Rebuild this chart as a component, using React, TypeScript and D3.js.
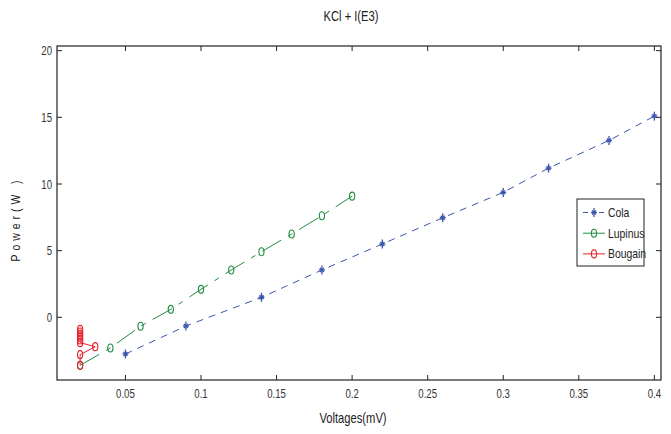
import React from "react";
import * as d3 from "d3";

const colaX = [0.05, 0.09, 0.14, 0.18, 0.22, 0.26, 0.30, 0.33, 0.37, 0.40];
const colaY = [-2.75, -0.65, 1.5, 3.55, 5.5, 7.47, 9.37, 11.19, 13.27, 15.09];
const lupinusX = [0.02, 0.04, 0.06, 0.08, 0.10, 0.12, 0.14, 0.16, 0.18, 0.20];
const lupinusY = [-3.6, -2.3, -0.67, 0.6, 2.1, 3.55, 4.92, 6.25, 7.62, 9.09];
const bougainX = [0.02, 0.02, 0.02, 0.02, 0.02, 0.02, 0.03, 0.02, 0.02];
const bougainY = [-0.9, -1.1, -1.3, -1.5, -1.7, -1.9, -2.2, -2.8, -3.6];
const xTicks = [0.05, 0.1, 0.15, 0.2, 0.25, 0.3, 0.35, 0.4];
const yTicks = [0, 5, 10, 15, 20];
const seriesNames = ["Cola", "Lupinus", "Bougain"];

const W = 671, H = 434;
const L = 57, R = 661, T = 46, B = 380;
const FONT = "'Liberation Sans', Arial, sans-serif";
const BLUE = "#3b55ad";
const GREEN = "#1e8c3e";
const RED = "#e8212b";
const SQ = 0.8;

const x = d3.scaleLinear().domain([0.0047, 0.4044]).range([L, R]);
const y = d3.scaleLinear().domain([-4.7, 20.35]).range([B, T]);

const toPts = (xs: number[], ys: number[]) => xs.map((v, i) => [v, ys[i]] as [number, number]);
const line = d3.line<[number, number]>().x(d => x(d[0])).y(d => y(d[1]));

function Txt({ x: tx, y: ty, anchor = "start", size = 11, rotate = 0, spacing = 0, fill = "#333", children }: any) {
  return (
    <text
      transform={`translate(${tx},${ty}) rotate(${rotate}) scale(${SQ},1)`}
      textAnchor={anchor}
      fontSize={size}
      fill={fill}
      letterSpacing={spacing}
    >
      {children}
    </text>
  );
}

function Star({ cx, cy, color }: { cx: number; cy: number; color: string }) {
  return (
    <g stroke={color} strokeWidth={1.3}>
      <line x1={cx} y1={cy - 4.5} x2={cx} y2={cy + 4.5} />
      <line x1={cx - 3} y1={cy} x2={cx + 3} y2={cy} />
      <line x1={cx - 2} y1={cy - 2} x2={cx + 2} y2={cy + 2} />
      <line x1={cx - 2} y1={cy + 2} x2={cx + 2} y2={cy - 2} />
    </g>
  );
}

function Circ({ cx, cy, color }: { cx: number; cy: number; color: string }) {
  return <ellipse cx={cx} cy={cy} rx={2.6} ry={4} fill="none" stroke={color} strokeWidth={1.1} />;
}

export default function App() {
  const cola = toPts(colaX, colaY);
  const lup = toPts(lupinusX, lupinusY);
  const bou = toPts(bougainX, bougainY);
  const legendColors = [BLUE, GREEN, RED];
  return (
    <svg width={W} height={H} style={{ position: "absolute", left: 0, top: 0, background: "#fff" }} fontFamily={FONT}>
      <rect x={0} y={0} width={W} height={H} fill="#fff" />
      <Txt x={351} y={21} anchor="middle" size={14} fill="#222">KCl + I(E3)</Txt>
      {/* axes box */}
      <rect x={L} y={T} width={R - L} height={B - T} fill="none" stroke="#222" strokeWidth={1.2} />
      {xTicks.map(t => (
        <g key={"x" + t}>
          <line x1={x(t)} x2={x(t)} y1={B} y2={B - 5} stroke="#222" />
          <line x1={x(t)} x2={x(t)} y1={T} y2={T + 5} stroke="#222" />
          <Txt x={x(t)} y={398} anchor="middle" size={12}>{String(t)}</Txt>
        </g>
      ))}
      {yTicks.map(t => (
        <g key={"y" + t}>
          <line x1={L} x2={L + 5} y1={y(t)} y2={y(t)} stroke="#222" />
          <line x1={R} x2={R - 5} y1={y(t)} y2={y(t)} stroke="#222" />
          <Txt x={52} y={y(t) + 4.5} anchor="end" size={12}>{String(t)}</Txt>
        </g>
      ))}
      <Txt x={353} y={423} anchor="middle" size={14} fill="#222">Voltages(mV)</Txt>
      <Txt x={20} y={219} anchor="middle" size={13} rotate={-90} spacing={5} fill="#222">Power(W )</Txt>
      {/* series */}
      <path d={line(cola) ?? ""} fill="none" stroke={BLUE} strokeWidth={1} strokeDasharray="7,6" />
      {cola.map((p, i) => <Star key={"c" + i} cx={x(p[0])} cy={y(p[1])} color={BLUE} />)}
      <path d={line(lup) ?? ""} fill="none" stroke={GREEN} strokeWidth={1} strokeDasharray="22,8,5,8" />
      {lup.map((p, i) => <Circ key={"l" + i} cx={x(p[0])} cy={y(p[1])} color={GREEN} />)}
      <path d={line(bou) ?? ""} fill="none" stroke={RED} strokeWidth={1} />
      {bou.map((p, i) => <Circ key={"b" + i} cx={x(p[0])} cy={y(p[1])} color={RED} />)}
      {/* legend */}
      <rect x={577} y={199} width={67} height={67} fill="#fff" stroke="#222" strokeWidth={1} />
      {seriesNames.map((n, i) => {
        const ly = 212.5 + i * 20.7;
        const c = legendColors[i];
        return (
          <g key={n}>
            <line x1={583} x2={605} y1={ly} y2={ly} stroke={c} strokeWidth={1} strokeDasharray={i === 0 ? "5,3" : undefined} />
            {i === 0 ? <Star cx={594} cy={ly} color={c} /> : <Circ cx={594} cy={ly} color={c} />}
            <Txt x={608} y={ly + 4.5} size={13} fill="#222">{n}</Txt>
          </g>
        );
      })}
    </svg>
  );
}
